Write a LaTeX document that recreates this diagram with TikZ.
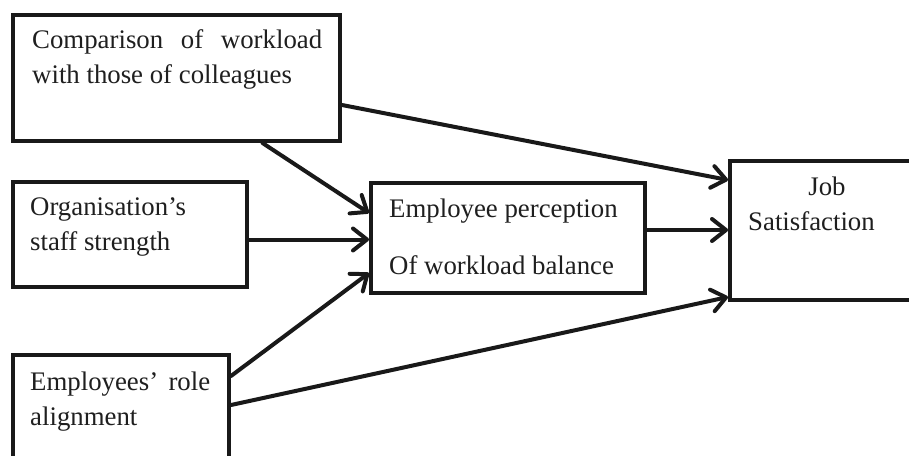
\documentclass[tikz,border=0pt]{standalone}
\usepackage{fontspec}
\setmainfont{Liberation Serif}
\usetikzlibrary{arrows.meta,calc}
\begin{document}
\begin{tikzpicture}[x=1pt,y=-1pt,
  box/.style={draw=black!90, line width=4pt, rectangle, inner sep=0pt},
  txt/.style={anchor=base west, inner sep=0pt, font=\fontsize{26.8}{35}\selectfont, text=black!88},
  conn/.style={draw=black!90, line width=4pt, line cap=round,
    -{Straight Barb[length=14pt,width=22pt,round]}}
]
\clip (0,0) rectangle (909,455);
\fill[white] (0,0) rectangle (909,455);
% boxes
\node[box, minimum width=327pt, minimum height=126pt] (b1) at (176.5,78) {};
\node[box, minimum width=234pt, minimum height=105pt] (b2) at (130,234.5) {};
\node[box, minimum width=216pt, minimum height=130pt] (b3) at (121,420) {};
\node[box, minimum width=274pt, minimum height=110pt] (b4) at (508,238) {};
\node[box, minimum width=200pt, minimum height=139pt] (b5) at (830,230.5) {};
% texts
\node[txt] (t1a) at (32,48) {\makebox[290pt][s]{Comparison of workload}};
\node[txt] (t1b) at (32,83) {with those of colleagues};
\node[txt] (t2a) at (30,215) {Organisation’s};
\node[txt] (t2b) at (30,250) {staff strength};
\node[txt] (t3a) at (30,390) {\makebox[180pt][s]{Employees’ role}};
\node[txt] (t3b) at (30,425) {alignment};
\node[txt] (t4a) at (389,217) {Employee perception};
\node[txt] (t4b) at (389,274) {Of workload balance};
\node[txt, anchor=base] (t5a) at (827,195) {Job};
\node[txt] (t5b) at (748,230) {Satisfaction};
% connectors
\coordinate (s1) at ($(b1.east)+(0,27)$);
\coordinate (e1) at ($(b5.west)+(0,-50.5)$);
\draw[conn] (s1) -- (e1);
\coordinate (s2) at ($(b1.south)+(86,0)$);
\coordinate (e2) at ($(b4.west)+(0,-25)$);
\draw[conn] (s2) -- (e2);
\coordinate (s3) at ($(b2.east)+(0,5)$);
\draw[conn] (s3) -- (s3 -| b4.west);
\coordinate (s4) at ($(b3.north east)+(0,23)$);
\coordinate (e4) at ($(b4.west)+(0,35)$);
\draw[conn] (s4) -- (e4);
\coordinate (s5) at ($(b3.north east)+(0,52)$);
\coordinate (e5) at ($(b5.west)+(0,66.5)$);
\draw[conn] (s5) -- (e5);
\coordinate (s6) at ($(b4.east)+(0,-8)$);
\draw[conn] (s6) -- (s6 -| b5.west);
\end{tikzpicture}
\end{document}
